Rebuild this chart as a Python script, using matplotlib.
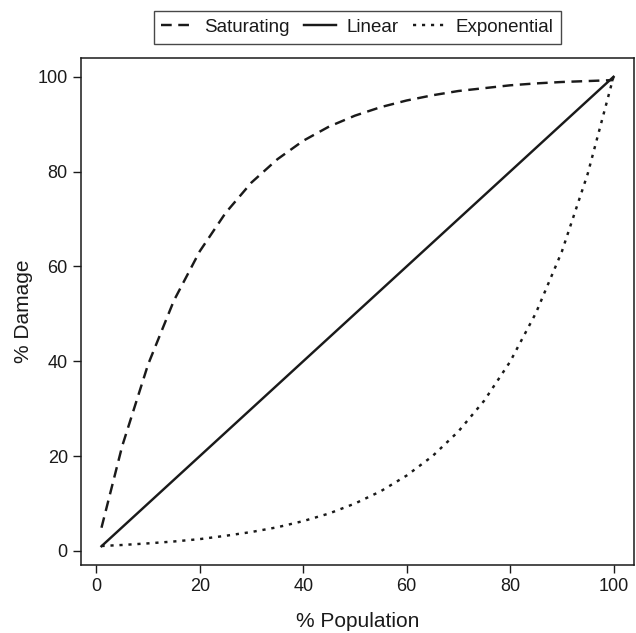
"""
Damage vs population curves: saturating, linear and exponential.
"""
import matplotlib
matplotlib.use("Agg")
import matplotlib.pyplot as plt

plt.rcParams["font.family"] = ["Liberation Sans", "DejaVu Sans"]

# values
population = [1, 5, 10, 15, 20, 25, 30, 35, 40, 45, 50, 55, 60, 65, 70, 75, 80, 85, 90, 95, 100]
saturating = [4.9, 22.1, 39.3, 52.8, 63.2, 71.3, 77.7, 82.6, 86.5, 89.5, 91.8, 93.6,
              95.0, 96.1, 97.0, 97.6, 98.2, 98.6, 98.9, 99.1, 99.3]
linear = [1, 5, 10, 15, 20, 25, 30, 35, 40, 45, 50, 55, 60, 65, 70, 75, 80, 85, 90, 95, 100]
exponential = [1.05, 1.26, 1.6, 2.0, 2.5, 3.2, 4.0, 5.0, 6.3, 7.9, 10.0, 12.6,
               15.9, 20.0, 25.2, 31.7, 39.9, 50.2, 63.1, 79.5, 100]
ticks = [0, 20, 40, 60, 80, 100]

fig = plt.figure(figsize=(6.36, 6.33), dpi=100)
ax = fig.add_axes([81 / 636, 1 - 565 / 633, (634 - 81) / 636, (565 - 58) / 633])

ax.plot(population, saturating, color="#1a1a1a", lw=1.75, dashes=(4.4, 2.7), label="Saturating")
ax.plot(population, linear, color="#1a1a1a", lw=1.75, label="Linear")
ax.plot(population, exponential, color="#1a1a1a", lw=1.75, dashes=(1.3, 2.4), label="Exponential")

ax.set_xlim(-2.96, 103.96)
ax.set_ylim(-2.96, 103.96)
ax.set_xticks(ticks)
ax.set_yticks(ticks)
ax.tick_params(direction="out", length=5.5, width=1, labelsize=13, pad=4, colors="#1a1a1a")
for sp in ax.spines.values():
    sp.set_linewidth(1.1)
    sp.set_color("#1a1a1a")

ax.set_xlabel("% Population", fontsize=15, labelpad=12, color="#1a1a1a")
ax.set_ylabel("% Damage", fontsize=15, labelpad=3, color="#1a1a1a")

leg = ax.legend(loc="lower center", bbox_to_anchor=(0.5, 1.028), ncol=3, frameon=True,
                fancybox=False, edgecolor="#1a1a1a", fontsize=13.5, handlelength=1.7,
                handletextpad=0.55, columnspacing=0.8, borderpad=0.42, borderaxespad=0)
leg.get_frame().set_linewidth(1.0)
for t in leg.get_texts():
    t.set_color("#1a1a1a")

fig.savefig("out.png", dpi=100)
